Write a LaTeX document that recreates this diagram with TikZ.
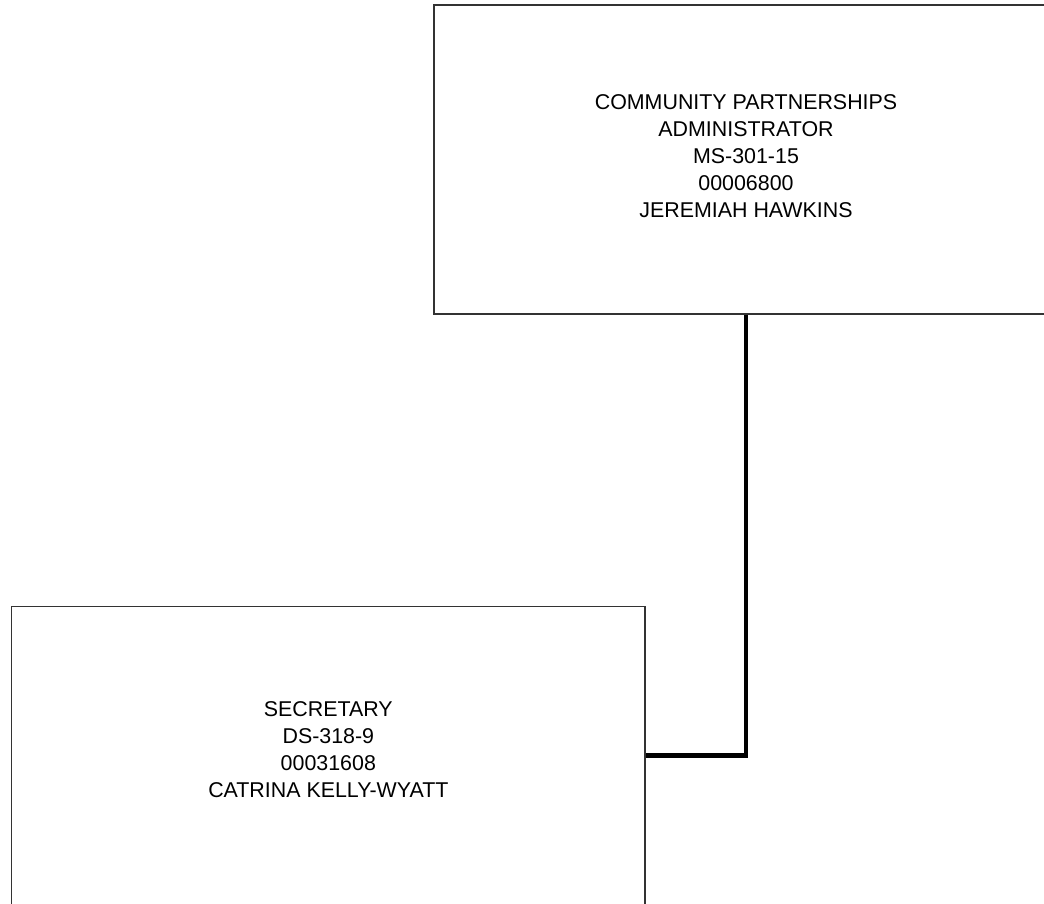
\documentclass[tikz,border=0pt]{standalone}
\usepackage{fontspec}
\setmainfont{Liberation Sans}
\begin{document}
\begin{tikzpicture}[x=1pt,y=-1pt,
  posbox/.style={draw=black!80,line width=1.2pt,fill=none,inner sep=0pt},
  postext/.style={align=center,inner sep=0pt,font=\fontsize{21.4}{27}\selectfont},
  link/.style={draw=black,line width=4.6pt}]
  \useasboundingbox (0,0) rectangle (1044,903);
  % position boxes
  \node[posbox,minimum width=624pt,minimum height=309pt] (admin) at (746,159.5) {};
  \node[posbox,minimum width=633.3pt,minimum height=298pt] (sec) at (328.35,755.7) {};
  % position texts
  \node[postext] (admintxt) at (746,156)
    {COMMUNITY PARTNERSHIPS\\ADMINISTRATOR\\MS-301-15\\00006800\\JEREMIAH HAWKINS};
  \node[postext] (sectxt) at (328.35,749.5)
    {SECRETARY\\DS-318-9\\00031608\\CATRINA KELLY-WYATT};
  % reporting line
  \draw[link] (admin.south) |- (sec.east);
\end{tikzpicture}
\end{document}
